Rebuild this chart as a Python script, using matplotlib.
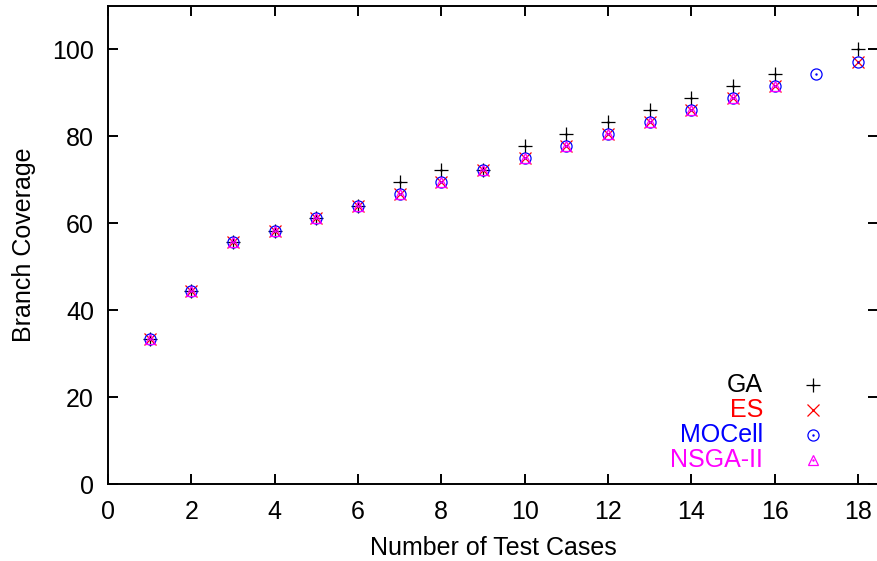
import numpy as np
import matplotlib
matplotlib.use("Agg")
import matplotlib.pyplot as plt

plt.rcParams['font.family'] = ['Liberation Sans', 'DejaVu Sans']

nan = np.nan
test_cases = list(range(1, 19))
ga = [33.3, 44.4, 55.6, 58.3, 61.1, 63.9, 69.4, 72.2, 72.2, 77.8, 80.6, 83.3, 86.1, 88.9, 91.7, 94.4, nan, 100.0]
es = [33.3, 44.4, 55.6, 58.3, 61.1, 63.9, 66.7, 69.4, 72.2, 75.0, 77.8, 80.6, 83.3, 86.1, 88.9, 91.7, nan, 97.2]
mocell = [33.3, 44.4, 55.6, 58.3, 61.1, 63.9, 66.7, 69.4, 72.2, 75.0, 77.8, 80.6, 83.3, 86.1, 88.9, 91.7, 94.4, 97.2]
nsga2 = [33.3, 44.4, 55.6, 58.3, 61.1, 63.9, 66.7, 69.4, 72.2, 75.0, 77.8, 80.6, 83.3, 86.1, 88.9, 91.7, nan, nan]

names = ["GA", "ES", "MOCell", "NSGA-II"]
series = [ga, es, mocell, nsga2]
colors = ["black", "red", "blue", "magenta"]
markers = ["+", "x", "o", "^"]
sizes = [10, 8, 8, 6.5]
fs = 18

fig = plt.figure(figsize=(8.77, 5.61), dpi=100)
ax = fig.add_axes([108 / 877, 77 / 561, 770 / 877, 478 / 561])

for vals, c, m, s in zip(series, colors, markers, sizes):
    ax.plot(test_cases, vals, linestyle="none", marker=m, ms=s, mfc="none",
            mec=c, mew=0.9)
    # gnuplot puts a little dot in the centre of each point
    ax.plot(test_cases, vals, linestyle="none", marker=".", ms=1.5, color=c)

# key, gnuplot style: right aligned text with the symbol after it
key_y = [0.207, 0.155, 0.1025, 0.050]
for name, c, m, s, y in zip(names, colors, markers, sizes, key_y):
    ax.text(0.8506, y, name, color=c, ha="right", va="center", fontsize=fs,
            transform=ax.transAxes)
    ax.plot([0.9156], [y], linestyle="none", marker=m, ms=s, mfc="none",
            mec=c, mew=0.9, transform=ax.transAxes, clip_on=False)
    ax.plot([0.9156], [y], linestyle="none", marker=".", ms=1.5, color=c,
            transform=ax.transAxes, clip_on=False)

ax.set_xlim(0, 18.48)
ax.set_ylim(0, 110)
ax.set_xticks(range(0, 19, 2))
ax.set_yticks(range(0, 101, 20))
ax.tick_params(direction="in", length=7.5, width=1.4, top=True, right=True,
               labelsize=fs, pad=10)
ax.tick_params(axis="x", pad=11.5)
for sp in ax.spines.values():
    sp.set_linewidth(1.4)

ax.set_xlabel("Number of Test Cases", fontsize=fs, labelpad=9)
ax.set_ylabel("Branch Coverage", fontsize=fs, labelpad=12)

fig.savefig("out.png", dpi=100)
